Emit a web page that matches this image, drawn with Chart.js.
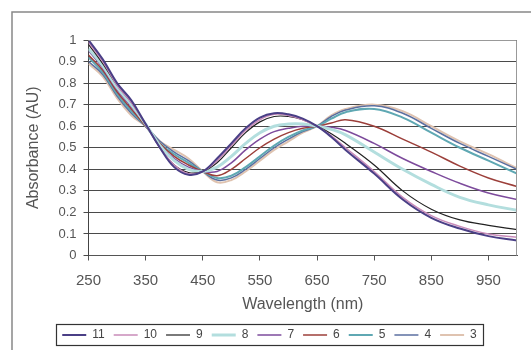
<!DOCTYPE html>
<html><head><meta charset="utf-8">
<script src="https://cdn.jsdelivr.net/npm/chart.js@4.4.1/dist/chart.umd.min.js"></script>
<style>html,body{margin:0;padding:0;background:#fff}#wrap{width:531px;height:350px;position:relative}</style>
</head><body><div id="wrap"><canvas id="c"></canvas></div>
<script>
// ---- data ----
const WAVELENGTH = [250,275,300,325,350,375,400,425,450,475,500,525,550,575,600,625,650,675,700,750,800,850,900,950,1000];
const S11 = [1.00,0.91,0.80,0.72,0.61,0.50,0.41,0.375,0.39,0.45,0.52,0.59,0.64,0.66,0.655,0.635,0.60,0.55,0.49,0.38,0.26,0.175,0.125,0.09,0.07];
const S10 = [0.99,0.90,0.79,0.71,0.61,0.50,0.42,0.38,0.39,0.44,0.51,0.58,0.63,0.655,0.65,0.63,0.60,0.555,0.50,0.39,0.27,0.185,0.135,0.10,0.085];
const S9  = [0.98,0.89,0.79,0.71,0.61,0.50,0.42,0.385,0.39,0.43,0.50,0.57,0.62,0.645,0.645,0.63,0.60,0.565,0.52,0.42,0.30,0.215,0.165,0.14,0.12];
const S8  = [0.96,0.88,0.78,0.70,0.61,0.51,0.44,0.40,0.39,0.41,0.46,0.52,0.57,0.60,0.61,0.61,0.60,0.585,0.56,0.48,0.40,0.33,0.27,0.235,0.21];
const S7  = [0.95,0.87,0.77,0.69,0.61,0.51,0.45,0.41,0.39,0.39,0.43,0.49,0.54,0.575,0.59,0.60,0.60,0.595,0.58,0.52,0.45,0.39,0.335,0.29,0.26];
const S6  = [0.93,0.86,0.76,0.68,0.60,0.52,0.46,0.42,0.39,0.37,0.40,0.45,0.50,0.54,0.57,0.59,0.60,0.615,0.63,0.60,0.54,0.48,0.415,0.36,0.32];
const S5  = [0.92,0.85,0.75,0.67,0.60,0.52,0.47,0.43,0.39,0.36,0.37,0.41,0.46,0.51,0.55,0.58,0.60,0.635,0.665,0.68,0.64,0.57,0.50,0.44,0.38];
const S4  = [0.90,0.84,0.74,0.66,0.60,0.53,0.48,0.44,0.39,0.35,0.36,0.40,0.45,0.50,0.54,0.575,0.60,0.645,0.675,0.695,0.66,0.59,0.52,0.46,0.40];
const S3  = [0.89,0.83,0.73,0.65,0.60,0.53,0.49,0.45,0.39,0.34,0.35,0.39,0.44,0.49,0.53,0.57,0.60,0.65,0.68,0.70,0.67,0.60,0.53,0.47,0.405];
const SERIES_LABELS = ['11','10','9','8','7','6','5','4','3'];
const X_TICKS = [250,350,450,550,650,750,850,950];
const Y_TICKS = [0,0.1,0.2,0.3,0.4,0.5,0.6,0.7,0.8,0.9,1];
const X_TITLE = 'Wavelength (nm)';
const Y_TITLE = 'Absorbance (AU)';

// ---- styles ----
const SERIES_VALUES = [S11,S10,S9,S8,S7,S6,S5,S4,S3];
const COLORS = ['#4a3f86','#c98bb9','#222222','#b3dede','#7d4b9c','#9c3f3a','#5fa8b3','#5b6fa0','#dfc3b0'];
const WIDTHS = [2,1.5,1.2,3,1.5,1.5,2,1.5,2];
const FONT = '"Liberation Sans", Arial, sans-serif';
const TXT = '#555';

const datasets = SERIES_VALUES.map((vals, i) => ({
  label: SERIES_LABELS[i],
  data: WAVELENGTH.map((w, j) => ({x: w, y: vals[j]})),
  borderColor: COLORS[i],
  backgroundColor: COLORS[i],
  borderWidth: WIDTHS[i],
  pointRadius: 0,
  tension: 0.4,
  fill: false
}));

const frame = {
  id: 'frame',
  beforeDraw(chart) {
    const ctx = chart.ctx;
    ctx.save();
    ctx.fillStyle = '#fff';
    ctx.fillRect(0, 0, chart.width, chart.height);
    ctx.strokeStyle = '#888';
    ctx.lineWidth = 1.5;
    ctx.beginPath();
    ctx.moveTo(12, chart.height);
    ctx.lineTo(12, 12);
    ctx.lineTo(chart.width, 12);
    ctx.stroke();
    ctx.restore();
  },
  afterLayout(chart) {
    const lg = chart.legend;
    lg.left += 4; lg.right += 4;
    lg.top += 1; lg.bottom += 1;
  },
  afterDraw(chart) {
    const ctx = chart.ctx, a = chart.chartArea;
    ctx.save();
    ctx.strokeStyle = '#999';
    ctx.lineWidth = 1;
    ctx.beginPath();
    ctx.moveTo(a.left, a.top + 0.5);
    ctx.lineTo(a.right - 0.5, a.top + 0.5);
    ctx.lineTo(a.right - 0.5, a.bottom);
    ctx.stroke();
    const hb = chart.legend.legendHitBoxes;
    if (hb && hb.length) {
      const l = hb[0].left - 6, r = hb[hb.length - 1].left + hb[hb.length - 1].width + 6;
      const t = hb[0].top - 5, b = hb[0].top + hb[0].height + 4;
      ctx.strokeStyle = '#333';
      ctx.lineWidth = 1.2;
      ctx.strokeRect(Math.round(l) + 0.5, Math.round(t) + 0.5, Math.round(r - l), Math.round(b - t));
    }
    ctx.restore();
  }
};

new Chart(document.getElementById('c'), {
  type: 'line',
  data: {datasets},
  plugins: [frame],
  options: {
    responsive: true,
    maintainAspectRatio: false,
    animation: false,
    layout: {padding: {left: 14, right: 14, top: 40, bottom: 0}},
    plugins: {
      title: {display: false},
      tooltip: {enabled: false},
      legend: {
        position: 'bottom',
        labels: {
          usePointStyle: true, pointStyle: 'line', pointStyleWidth: 24,
          padding: 9, color: '#444',
          font: {family: FONT, size: 12}
        }
      }
    },
    scales: {
      x: {
        type: 'linear', min: 250, max: 1000,
        afterBuildTicks: s => { s.ticks = X_TICKS.map(v => ({value: v})); },
        afterFit: s => { s.height = 63.5; },
        grid: {drawOnChartArea: false, drawTicks: true, tickLength: 5, color: '#555'},
        border: {display: true, color: '#555', width: 1},
        ticks: {color: TXT, font: {family: FONT, size: 15}, padding: 11, maxRotation: 0, callback: v => String(v)},
        title: {display: true, text: X_TITLE, color: TXT, font: {family: FONT, size: 16}, padding: {top: 2, bottom: 5}}
      },
      y: {
        min: 0, max: 1,
        afterBuildTicks: s => { s.ticks = Y_TICKS.map(v => ({value: v})); },
        afterFit: s => { s.width = 74.5; },
        grid: {color: '#4a4a4a', lineWidth: 1, tickLength: 5, drawTicks: true},
        border: {display: true, color: '#444', width: 1},
        ticks: {color: TXT, font: {family: FONT, size: 13}, padding: 7, callback: v => String(v)},
        title: {display: true, text: Y_TITLE, color: TXT, font: {family: FONT, size: 16}, padding: {top: 10, bottom: 0}}
      }
    }
  }
});
</script></body></html>
